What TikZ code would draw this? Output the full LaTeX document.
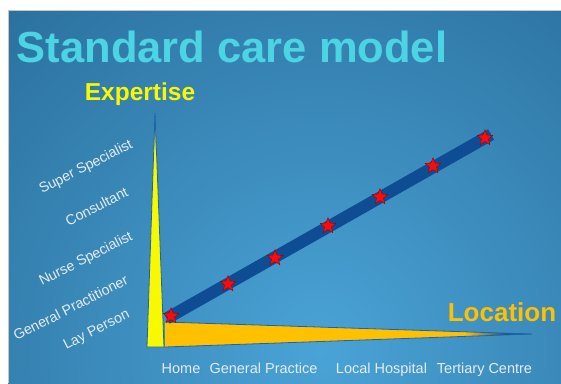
\documentclass[tikz,border=0pt]{standalone}
\usepackage{fontspec}
\setmainfont{Liberation Sans}
\usetikzlibrary{shapes.geometric}
\definecolor{slidedark}{HTML}{1B5782}
\definecolor{slidelight}{HTML}{4AA3D6}
\definecolor{titlecyan}{HTML}{4AD4E4}
\definecolor{expyellow}{HTML}{F8F800}
\definecolor{locorange}{HTML}{FFC000}
\definecolor{linkblue}{HTML}{0E4C94}
\definecolor{edgeblue}{HTML}{1F62A6}
\definecolor{starred}{HTML}{FF0A0A}
\definecolor{labelgrey}{HTML}{E4ECF2}
\begin{document}
\begin{tikzpicture}[x=1pt, y=-1pt,
  headline/.style={text=titlecyan, font=\bfseries\fontsize{43.5}{50}\selectfont, anchor=base, inner sep=0pt},
  axistitle/.style={font=\bfseries\fontsize{#1}{30}\selectfont, anchor=base, inner sep=0pt},
  rankname/.style={text=labelgrey, font=\fontsize{14.2}{16}\selectfont, rotate=27, anchor=east, inner sep=0pt},
  sitename/.style={text=labelgrey, font=\fontsize{14.5}{17}\selectfont, anchor=base, inner sep=0pt},
  careline/.style={draw=linkblue, line width=12pt, shorten <=-5pt, shorten >=-7pt},
  marker/.style={star, star points=5, star point ratio=2.3, fill=starred, draw=starred!55!black, line width=0.4pt, minimum size=16.5pt, inner sep=0pt}]
\tikzset{axisedge/.style={draw=edgeblue, line width=0.8pt, line join=miter}}
\useasboundingbox (0,0) rectangle (561,383);
\fill[white] (0,0) rectangle (561,383);
\begin{scope}
\clip (8,10) rectangle (561,383);
\shade[inner color=slidelight, outer color=slidedark] (320,350) circle (700);
\end{scope}
\draw[gray!45, line width=0.7pt] (8,383) -- (8,10) -- (561,10);

\node[headline] (title) at (232,62) {Standard care model};
\node[axistitle=24.5, text=expyellow] (expertise) at (140,100) {Expertise};
\node[axistitle=26, text=locorange] (location) at (502,321) {Location};

% expertise axis
\coordinate (y0) at (147,347);
\coordinate (y1) at (155,113);
\coordinate (y2) at (164,347);
\begin{scope}
\clip (y0) -- (y1) -- (y2) -- cycle;
\fill[expyellow] (140,150) rectangle (170,350);
\shade[top color=edgeblue, bottom color=expyellow] (140,113) rectangle (170,152);
\end{scope}
\draw[axisedge] (y0) -- (y1) -- (y2) -- cycle;

% location axis
\coordinate (l0) at (165,322);
\coordinate (l1) at (532,334);
\coordinate (l2) at (165,347);
\begin{scope}
\clip (l0) -- (l1) -- (l2) -- cycle;
\fill[locorange] (160,315) rectangle (466,350);
\shade[left color=locorange, right color=linkblue] (465,315) rectangle (508,350);
\fill[linkblue] (507,315) rectangle (535,350);
\end{scope}
\draw[axisedge] (l0) -- (l1) -- (l2);

\node[rankname] (r5) at (132,144) {Super Specialist};
\node[rankname] (r4) at (127,191) {Consultant};
\node[rankname] (r3) at (132,236) {Nurse Specialist};
\node[rankname] (r2) at (127,279) {General Practitioner};
\node[rankname] (r1) at (129,314) {Lay Person};

\node[sitename] (home) at (181,373) {Home};
\node[sitename] (gp) at (263.5,373) {General Practice};
\node[sitename] (local) at (381.5,373) {Local Hospital};
\node[sitename] (tertiary) at (484.5,373) {Tertiary Centre};

\foreach \i/\x/\y in {1/171/316, 2/228/284, 3/275/258, 4/328/226, 5/380/197, 6/433/166, 7/485/138}
  \coordinate (p\i) at (\x,\y);
\draw[careline] (p1) -- (p7);
\foreach \i in {1,...,7}
  \node[marker] (s\i) at (p\i) {};
\end{tikzpicture}
\end{document}
